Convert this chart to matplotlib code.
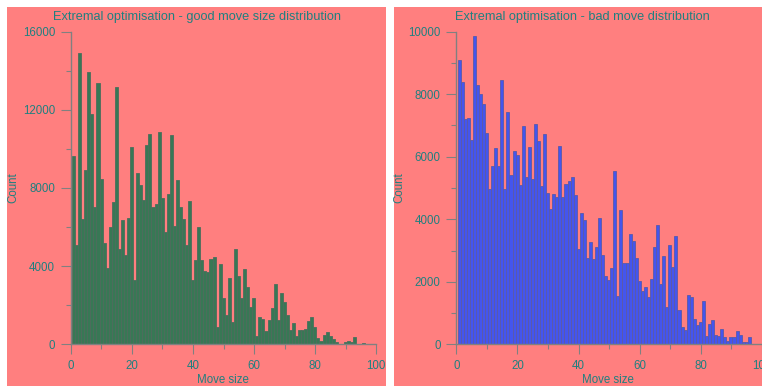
import numpy as np
import matplotlib
matplotlib.use('Agg')
import matplotlib.pyplot as plt
from matplotlib.patches import Rectangle
from matplotlib.ticker import MultipleLocator

# histogram counts per unit-width bin
good_counts = [
    9640, 5070, 14900, 6400, 8945, 13946, 11795, 7016, 13366, 8450,
    5172, 3926, 5992, 7289, 13161, 4882, 6384, 4575, 6470, 10105,
    3295, 8774, 8142, 7391, 10208, 10771, 7016, 7169, 10857, 7477,
    5736, 7682, 10703, 6060, 8398, 7016, 6401, 5070, 7340, 3277,
    4336, 6009, 4319, 3755, 3721, 4353, 4472, 880, 4114, 2370,
    1510, 3370, 1120, 4870, 3500, 2360, 3830, 2950, 1929, 2360,
    427, 1420, 1270, 700, 1246, 1861, 3100, 1240, 2620, 2170,
    1502, 734, 1092, 427, 734, 751, 768, 1178, 1400, 870,
    307, 145, 478, 620, 444, 273, 137, 17, 30, 137,
    150, 110, 375, 17, 0, 50, 30,
]
bad_counts = [
    9093, 8379, 7196, 7249, 6535, 9861, 8293, 8006, 7675, 6759,
    4968, 5714, 6289, 5692, 8453, 4968, 7441, 5426, 6193, 6044,
    5106, 6982, 5362, 6311, 5298, 7046, 6492, 5074, 6716, 4829,
    4328, 4808, 4712, 6332, 4712, 5127, 5223, 5351, 4765, 3049,
    4189, 3976, 2750, 3273, 2718, 3113, 4040, 2870, 2200, 2057,
    2425, 5543, 1540, 4296, 2585, 2590, 3520, 3305, 2770, 2020,
    1710, 1830, 1520, 2079, 3113, 3820, 1929, 2825, 1195, 3190,
    2484, 3454, 1087, 565, 458, 1567, 1520, 810, 613, 714,
    1370, 272, 650, 772, 298, 260, 480, 245, 96, 224,
    240, 420, 298, 75, 75, 224, 0,
]
bin_start = 0.4
bin_width = 1.0

titles = ['Extremal optimisation - good move size distribution',
          'Extremal optimisation - bad move distribution']

PINK = '#ff7f7f'
TEAL = '#1f8080'
GREY = '#808080'
W, H = 762, 386

plt.rcParams['font.family'] = ['Liberation Sans', 'DejaVu Sans']
fig = plt.figure(figsize=(W / 100, H / 100), dpi=100)
fig.patch.set_facecolor('white')


def px(x0, y0, w, h):
    # pixel box (top-left origin) -> figure fraction rect
    return [x0 / W, 1 - (y0 + h) / H, w / W, h / H]


# panel backgrounds, kept behind the axes
for x0, x1 in [(7, 386), (394, 762)]:
    r = px(x0, 7, x1 - x0, H - 7)
    fig.patches.append(Rectangle((r[0], r[1]), r[2], r[3], transform=fig.transFigure,
                                 facecolor=PINK, edgecolor='none', zorder=-10))

panels = [
    dict(counts=good_counts, color='#387855', edge='#4d6d5d', ymax=16000, major=4000,
         ax_x=70.8, title_x=197, xlab_x=223, ylab_x=13),
    dict(counts=bad_counts, color='#4455ee', edge='#5a5aa8', ymax=10000, major=2000,
         ax_x=456.3, title_x=582, xlab_x=608, ylab_x=399),
]

for p, title in zip(panels, titles):
    ax = fig.add_axes(px(p['ax_x'], 31.7, 305.5, 312.6))
    ax.set_facecolor(PINK)
    counts = np.array(p['counts'])
    lefts = bin_start + bin_width * np.arange(len(counts))
    ax.bar(lefts, counts, width=bin_width, align='edge', color=p['color'],
           edgecolor=p['edge'], linewidth=0.6)
    ax.set_xlim(0, 100)
    ax.set_ylim(0, p['ymax'])
    for s in ['top', 'right']:
        ax.spines[s].set_visible(False)
    for s in ['left', 'bottom']:
        ax.spines[s].set_color(GREY)
        ax.spines[s].set_linewidth(1)
    ax.xaxis.set_major_locator(MultipleLocator(20))
    ax.xaxis.set_minor_locator(MultipleLocator(10))
    ax.yaxis.set_major_locator(MultipleLocator(p['major']))
    ax.yaxis.set_minor_locator(MultipleLocator(p['major'] / 2))
    # lengths in points: 10 px major, 5 px minor at 100 dpi
    ax.tick_params(which='both', direction='out', color=GREY, labelcolor=TEAL,
                   labelsize=8.3, width=0.8)
    ax.tick_params(which='major', length=7.2, pad=4)
    ax.tick_params(which='minor', length=3.6)

    fig.text(p['title_x'] / W, 1 - 17 / H, title, ha='center', va='center',
             color=TEAL, fontsize=9.2)
    fig.text(p['xlab_x'] / W, 1 - 380 / H, 'Move size', ha='center', va='center',
             color=TEAL, fontsize=8.3)
    fig.text(p['ylab_x'] / W, 1 - 188 / H, 'Count', ha='center', va='center',
             rotation=90, color=TEAL, fontsize=8.3)

fig.savefig('out.png', dpi=100, facecolor=fig.get_facecolor())
